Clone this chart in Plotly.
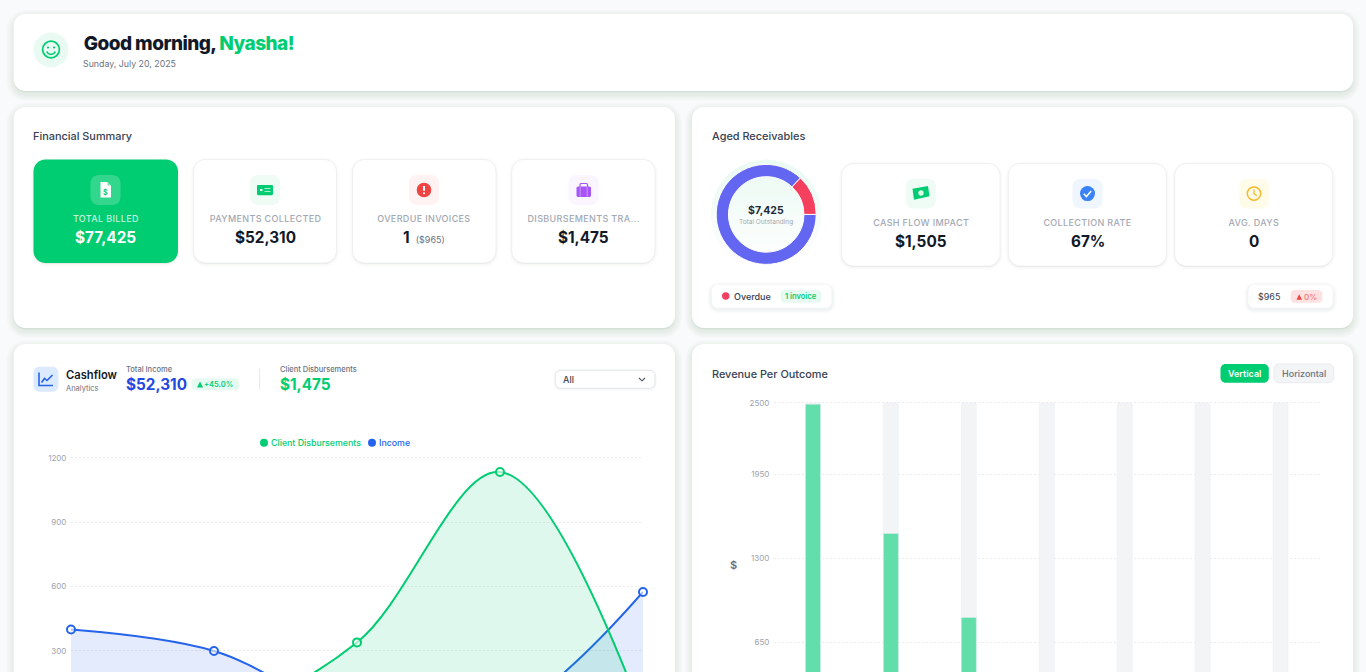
import math
import plotly.graph_objects as go

# ---------- data ----------
cash_periods = [0, 1, 2, 3, 4]
income_values = [400, 300, 0, 0, 575]
disbursement_values = [0, 0, 340, 1135, 0]
cash_ticks = [300, 600, 900, 1200]
outcome_names = ["Outcome 1", "Outcome 2", "Outcome 3", "Outcome 4", "Outcome 5", "Outcome 6", "Outcome 7"]
outcome_values = [2490, 1490, 840, 0, 0, 0, 0]
outcome_track = [2500, 2500, 2500, 2500, 2500, 2500, 2500]
outcome_ticks = [650, 1300, 1950, 2500]
aged_labels = ["Current", "Overdue"]
aged_values = [6460, 965]

W, H = 1366, 672
GREEN = "#00cc71"
BLUE = "#2563eb"
FONT = "Inter"
shapes, notes = [], []


def X(p):
    return p / W


def Y(p):
    return 1 - p / H


def rr_path(x0, y0, x1, y1, r):
    k = r * 0.45
    pts = [
        f"M {X(x0 + r)} {Y(y0)}", f"L {X(x1 - r)} {Y(y0)}",
        f"C {X(x1 - k)} {Y(y0)} {X(x1)} {Y(y0 + k)} {X(x1)} {Y(y0 + r)}",
        f"L {X(x1)} {Y(y1 - r)}",
        f"C {X(x1)} {Y(y1 - k)} {X(x1 - k)} {Y(y1)} {X(x1 - r)} {Y(y1)}",
        f"L {X(x0 + r)} {Y(y1)}",
        f"C {X(x0 + k)} {Y(y1)} {X(x0)} {Y(y1 - k)} {X(x0)} {Y(y1 - r)}",
        f"L {X(x0)} {Y(y0 + r)}",
        f"C {X(x0)} {Y(y0 + k)} {X(x0 + k)} {Y(y0)} {X(x0 + r)} {Y(y0)}", "Z",
    ]
    return " ".join(pts)


def rect(x0, y0, x1, y1, r, fill, line=None, lw=1, layer="below"):
    shapes.append(dict(type="path", xref="paper", yref="paper", path=rr_path(x0, y0, x1, y1, r),
                       fillcolor=fill, line=dict(color=line or "rgba(0,0,0,0)", width=lw if line else 0), layer=layer))


def shadow(x0, y0, x1, y1, r, dy=3, spread=7, alpha=0.012):
    for i in range(spread, 0, -1):
        rect(x0 - i, y0 + dy - i, x1 + i, y1 + dy + i, r + i, f"rgba(30,50,40,{alpha})")


def card(x0, y0, x1, y1, r=12):
    shadow(x0, y0, x1, y1, r, dy=3, spread=7, alpha=0.010)
    rect(x0, y0 + 1.5, x1, y1 + 1.5, r, "rgba(40,70,55,0.07)")
    rect(x0, y0, x1, y1, r, "#ffffff")


def tile_card(x0, y0, x1, y1, fill="#ffffff"):
    shadow(x0, y0, x1, y1, 12, dy=1, spread=3, alpha=0.012)
    rect(x0, y0 + 1, x1, y1 + 1, 12, "rgba(0,0,0,0.06)")
    rect(x0, y0, x1, y1, 12, fill, line=None if fill != "#ffffff" else "#eef0f2", lw=1)


def circle(cx, cy, r, fill, line=None, lw=0, ry=None, layer="above"):
    ry = r if ry is None else ry
    shapes.append(dict(type="circle", xref="paper", yref="paper", x0=X(cx - r), x1=X(cx + r), y0=Y(cy + ry), y1=Y(cy - ry),
                       fillcolor=fill, line=dict(color=line or "rgba(0,0,0,0)", width=lw), layer=layer))


def poly(pts, fill="rgba(0,0,0,0)", line=None, lw=0, close=True, layer="above"):
    d = " ".join(("M" if i == 0 else "L") + f" {X(a)} {Y(b)}" for i, (a, b) in enumerate(pts)) + (" Z" if close else "")
    shapes.append(dict(type="path", xref="paper", yref="paper", path=d, fillcolor=fill,
                       line=dict(color=line or "rgba(0,0,0,0)", width=lw), layer=layer))


def text(x, y, s, size, color, anchor="left", weight=400):
    if anchor == "left":
        x -= 1.2
    notes.append(dict(xref="paper", yref="paper", x=X(x), y=Y(y), text=s, showarrow=False, xanchor=anchor, yanchor="middle",
                      borderpad=0, font=dict(family=FONT, size=size, color=color, weight=weight)))


# ---------- cards ----------
card(13.5, 14, 1353, 91)
card(13.5, 107, 675, 328)
card(692, 107, 1353, 328)
card(13.5, 344, 675, 720)
card(692, 344, 1353, 720)

# ---------- greeting ----------
circle(51, 50, 17.4, "#e8faf2")
circle(51, 49.5, 8.4, "rgba(0,0,0,0)", GREEN, 1.7)
circle(48, 47.5, 1.1, GREEN)
circle(54, 47.5, 1.1, GREEN)
poly([(46.7, 51.5), (48.3, 53.6), (51, 54.4), (53.7, 53.6), (55.3, 51.5)], line=GREEN, lw=1.5, close=False)
notes.append(dict(xref="paper", yref="paper", x=X(76.8), y=Y(43), showarrow=False, xanchor="left", yanchor="middle", borderpad=0,
                  text=f"Good morning, <span style='color:{GREEN}'>Nyasha!</span>",
                  font=dict(family=FONT, size=19, color="#111827", weight=800)))
text(83.5, 63, "Sunday, July 20, 2025", 8.8, "#6b7280")

# ---------- financial summary ----------
text(33.5, 136, "Financial Summary", 10.9, "#374151", weight=500)
LABEL = "#a3a8b3"
tile_card(33.5, 159.5, 178, 263, GREEN)
tile_card(193.5, 159.5, 336.5, 263)
tile_card(352.5, 159.5, 496, 263)
tile_card(511.8, 159.5, 655, 263)
for cx, tint in [(105.5, "rgba(255,255,255,0.2)"), (265, "#eefcf5"), (424, "#fef2f2"), (583.5, "#faf5ff")]:
    rect(cx - 15, 175, cx + 15, 205, 8, tint, layer="above")
text(105.5, 218.7, "TOTAL BILLED", 9, "rgba(255,255,255,0.78)", "center", 500)
text(265, 218.7, "PAYMENTS COLLECTED", 9, LABEL, "center", 500)
text(424, 218.7, "OVERDUE INVOICES", 9, LABEL, "center", 500)
text(583.5, 218.7, "DISBURSEMENTS TRA...", 9, LABEL, "center", 500)
text(105.5, 237.5, "$77,425", 15.3, "#ffffff", "center", 700)
text(265, 237.5, "$52,310", 15.3, "#111827", "center", 700)
notes.append(dict(xref="paper", yref="paper", x=X(424), y=Y(237.5), showarrow=False, xanchor="center", yanchor="middle", borderpad=0,
                  text="1 <span style='font-size:9px;color:#6b7280;font-weight:400'> ($965)</span>",
                  font=dict(family=FONT, size=15.3, color="#111827", weight=700)))
text(583.5, 237.5, "$1,475", 15.3, "#111827", "center", 700)

# doc icon
poly([(100.5, 182), (107.5, 182), (111, 185.5), (111, 197.5), (100.5, 197.5)], fill="#ffffff")
poly([(107.5, 182), (111, 185.5), (107.5, 185.5)], fill="rgba(0,204,113,0.5)")
text(105.7, 192, "$", 7, GREEN, "center", 700)
# payments icon
rect(257, 185, 273, 195.3, 1.2, GREEN, layer="above")
poly([(260, 190), (262.5, 190)], line="#eafff5", lw=2, close=False)
poly([(264.5, 188.5), (270.5, 188.5)], line="#a8f0cf", lw=1, close=False)
poly([(264.5, 191.5), (270.5, 191.5)], line="#a8f0cf", lw=1, close=False)
# overdue icon
circle(424, 190, 7.3, "#ef4444")
poly([(424, 186), (424, 190.8)], line="#ffffff", lw=2, close=False)
circle(424, 193.2, 1.05, "#ffffff")
# briefcase icon
rect(576.5, 186.5, 591, 197, 1.8, "#a855f7", layer="above")
rect(580, 183.5, 587.5, 188, 1, "rgba(0,0,0,0)", line="#a855f7", lw=1.2, layer="above")
poly([(580.2, 187), (580.2, 196.8)], line="#d8b4fe", lw=0.7, close=False)
poly([(587.2, 187), (587.2, 196.8)], line="#d8b4fe", lw=0.7, close=False)

# ---------- aged receivables ----------
text(712, 136, "Aged Receivables", 10.9, "#374151", weight=500)
DCX, DCY = 766.2, 214.4
N = 24
RP = 54.8
for j in range(N):
    t = j / (N - 1)
    top = DCY - RP + 2 * RP * j / N
    c = f"rgb({int(235 + 20 * t)},{int(250 + 5 * t)},{int(243 + 12 * t)})"
    a0 = math.asin(max(-1, min(1, (top - DCY) / RP)))
    steps = 36
    pts = []
    for s in range(steps + 1):
        ang = a0 + (math.pi - 2 * a0) * s / steps
        pts.append((DCX + RP * math.cos(ang), DCY + RP * math.sin(ang)))
    poly(pts, fill=c, layer="below")

tile_card(841.5, 163.5, 1000, 266)
tile_card(1008.3, 163.5, 1166.5, 266)
tile_card(1174.7, 163.5, 1332.8, 266)
for cx, tint in [(920.8, "#eefcf5"), (1087.5, "#eff6ff"), (1254, "#fefce8")]:
    rect(cx - 15, 178.7, cx + 15, 208.5, 8, tint, layer="above")
text(920.8, 222.7, "CASH FLOW IMPACT", 9, LABEL, "center", 500)
text(1087.5, 222.7, "COLLECTION RATE", 9, LABEL, "center", 500)
text(1254, 222.7, "AVG. DAYS", 9, LABEL, "center", 500)
text(920.8, 241.7, "$1,505", 15.3, "#111827", "center", 700)
text(1087.5, 241.7, "67%", 15.3, "#111827", "center", 700)
text(1254, 241.7, "0", 15.3, "#111827", "center", 700)
# money icon
poly([(912.5, 188.8), (928, 186), (929.5, 196.2), (914, 199.8)], fill=GREEN)
circle(921, 193, 2.7, "#dff8ec")
# check icon
circle(1087.5, 193.6, 7.5, "#3b82f6")
poly([(1083.8, 193.8), (1086.4, 196.5), (1091.2, 191)], line="#ffffff", lw=1.6, close=False)
# clock icon
circle(1254, 193.6, 6.7, "rgba(0,0,0,0)", "#f5b82e", 1.5)
poly([(1254, 189.5), (1254, 194), (1257, 195.8)], line="#f5b82e", lw=1.3, close=False)

text(DCX, 210.4, "$7,425", 10.5, "#1f2937", "center", 700)
text(DCX, 221.7, "Total Outstanding", 6.5, "#a3a8b3", "center", 400)

# chips
shadow(711.7, 285, 831.5, 307.7, 6, dy=1.5, spread=4, alpha=0.014)
rect(711.7, 285, 831.5, 307.7, 6, "#ffffff")
circle(725.7, 296, 3.7, "#f43f5e")
text(734.5, 296.7, "Overdue", 9, "#374151", weight=500)
rect(780.6, 290, 821.5, 302.7, 4, "#e6faf1", layer="above")
text(801, 296.5, "1 invoice", 7.5, GREEN, "center", 600)
shadow(1248.3, 285, 1332.8, 307.7, 6, dy=1.5, spread=4, alpha=0.014)
rect(1248.3, 285, 1332.8, 307.7, 6, "#ffffff")
text(1258.5, 296.7, "$965", 9, "#374151")
rect(1290.6, 290, 1322.4, 302.7, 4, "#fee2e2", layer="above")
poly([(1296.5, 299.7), (1302, 299.7), (1299.2, 294.3)], fill="#ef4444")
text(1304.5, 296.7, "0%", 8, "#f87171", weight=500)

# ---------- cashflow header ----------
rect(33.5, 366.7, 58.4, 391.7, 6, "#dbeafe", layer="above")
poly([(39, 372.5), (39, 385.5), (53, 385.5)], line=BLUE, lw=1.6, close=False)
poly([(41.5, 382.5), (44.5, 378.5), (47, 380.5), (52.5, 375)], line=BLUE, lw=1.6, close=False)
text(66, 375, "Cashflow", 11.2, "#111827", weight=600)
text(66, 388.3, "Analytics", 7.5, "#6b7280")
text(126, 369.3, "Total Income", 7.5, "#6b7280", weight=500)
text(126, 384.7, "$52,310", 15.3, "#2548e0", weight=700)
rect(191.6, 378.3, 239, 390.3, 4, "#e6faf1", layer="above")
poly([(197, 387.5), (203, 387.5), (200, 381.5)], fill=GREEN)
text(204, 384.4, "+45.0%", 7.5, GREEN, weight=600)
poly([(259.6, 368.7), (259.6, 389.3)], line="#e5e7eb", lw=1, close=False)
text(280, 369.3, "Client Disbursements", 7.5, "#6b7280", weight=500)
text(280, 384.7, "$1,475", 15.3, GREEN, weight=700)
shadow(555.3, 370.3, 655, 388.3, 5, dy=1, spread=2, alpha=0.015)
rect(555.3, 370.3, 655, 388.3, 5, "#ffffff", line="#e2e5e9", lw=1)
text(563.6, 379.8, "All", 9, "#374151", weight=500)
poly([(639, 378), (642, 380.8), (645, 378)], line="#4b5563", lw=1.1, close=False)
circle(264, 442.8, 4, GREEN)
text(271, 442.7, "Client Disbursements", 8.8, GREEN, weight=500)
circle(372, 442.8, 4, BLUE)
text(379.5, 442.7, "Income", 8.8, BLUE, weight=500)

# ---------- revenue header ----------
text(712, 374, "Revenue Per Outcome", 10.9, "#374151", weight=500)
rect(1220.5, 364, 1268.8, 382.7, 5, GREEN)
text(1244.6, 373.4, "Vertical", 9, "#ffffff", "center", 600)
rect(1274, 364, 1333.7, 382.7, 5, "#f3f4f6", line="#e9ebee", lw=1)
text(1304, 373.4, "Horizontal", 9, "#6b7280", "center", 500)
text(733.5, 565.3, "$", 11, "#6b7280", "center", 600)

# ---------- figure ----------
fig = go.Figure()
fig.add_trace(go.Scatter(x=cash_periods, y=income_values, name="Income", mode="lines+markers", xaxis="x", yaxis="y",
                         line=dict(color=BLUE, width=2, shape="spline", smoothing=1.0), fill="tozeroy",
                         fillcolor="rgba(37,99,235,0.13)", cliponaxis=False,
                         marker=dict(size=8, color="rgba(255,255,255,0.6)", line=dict(color=BLUE, width=2))))
fig.add_trace(go.Scatter(x=cash_periods, y=disbursement_values, name="Client Disbursements", mode="lines+markers", xaxis="x", yaxis="y",
                         line=dict(color=GREEN, width=2, shape="spline", smoothing=1.0), fill="tozeroy",
                         fillcolor="rgba(0,204,113,0.13)", cliponaxis=False,
                         marker=dict(size=8, color="rgba(255,255,255,0.6)", line=dict(color=GREEN, width=2))))
fig.add_trace(go.Bar(x=outcome_names, y=outcome_track, xaxis="x2", yaxis="y2", marker=dict(color="#f3f4f6"), showlegend=False))
fig.add_trace(go.Bar(x=outcome_names, y=outcome_values, xaxis="x2", yaxis="y2", marker=dict(color="#61dea9"), showlegend=False))
fig.add_trace(go.Pie(labels=aged_labels, values=aged_values, hole=0.755, sort=False, direction="clockwise", rotation=90,
                     textinfo="none", marker=dict(colors=["#6366f1", "#f43f5e"], line=dict(color="#ffffff", width=1)),
                     domain=dict(x=[X(DCX - 50), X(DCX + 50)], y=[Y(DCY + 50), Y(DCY - 50)]), showlegend=False))

TICKFONT = dict(family=FONT, size=8, color="#9ca3af")
GRID = dict(showgrid=True, gridcolor="#ececec", griddash="2px,2px", gridwidth=1, zeroline=False, showline=False,
            ticks="outside", ticklen=2, tickcolor="rgba(0,0,0,0)", tickfont=TICKFONT)
fig.update_layout(
    width=W, height=H, autosize=False, margin=dict(l=0, r=0, t=0, b=0, pad=0, autoexpand=False),
    paper_bgcolor="#f9fafb", plot_bgcolor="rgba(0,0,0,0)", showlegend=False,
    barmode="overlay", bargap=1 - 15 / 77.9, barcornerradius=2,
    shapes=shapes, annotations=notes,
    xaxis=dict(domain=[X(71), X(643)], range=[0, 4], visible=False, anchor="y"),
    yaxis=dict(domain=[0, Y(456)], range=[202, 1209.3], tickvals=cash_ticks, anchor="x", **GRID),
    xaxis2=dict(domain=[X(774), X(1319.5)], type="category", categoryorder="array", categoryarray=outcome_names,
                visible=False, anchor="y2"),
    yaxis2=dict(domain=[0, Y(401)], range=[418, 2515], tickvals=outcome_ticks, anchor="x2", **GRID),
)

post = """
document.documentElement.style.margin='0';document.body.style.margin='0';document.body.style.overflow='hidden';
document.querySelectorAll('.annotation-text').forEach(function(n){
  var t=n.textContent;
  if(t===t.toUpperCase() && /[A-Z]{3}/.test(t)){n.style.letterSpacing='0.35px';}
  if(t.indexOf('Good morning')===0){n.style.letterSpacing='-0.55px';}
});
"""
fig.write_html("out.html", post_script=post, config=dict(displayModeBar=False))
